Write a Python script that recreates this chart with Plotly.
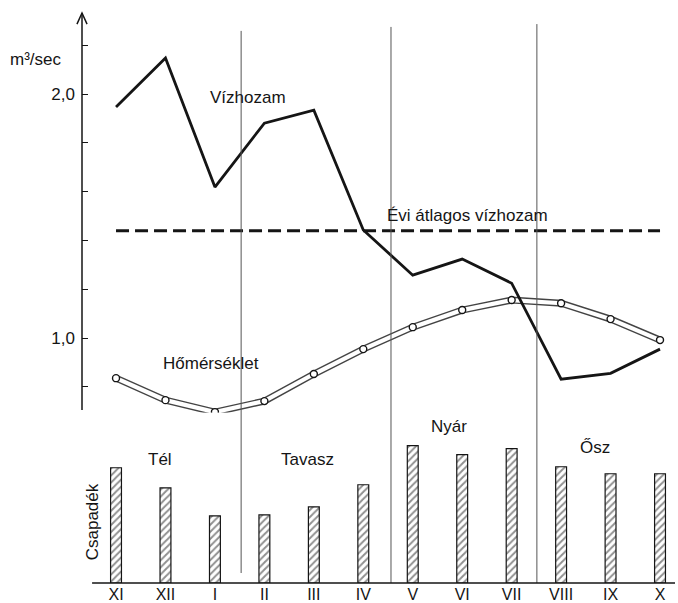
import plotly.graph_objects as go

months = ["XI", "XII", "I", "II", "III", "IV", "V", "VI", "VII", "VIII", "IX", "X"]
discharge = [1.947, 2.148, 1.619, 1.881, 1.934, 1.443, 1.258, 1.324, 1.225, 0.832, 0.856, 0.955]
temperature = [0.836, 0.746, 0.697, 0.742, 0.853, 0.955, 1.045, 1.115, 1.156, 1.143, 1.078, 0.992]
precipitation = [115, 95, 67, 68, 76, 98, 137, 128, 134, 116, 109, 109]
annual_mean = 1.44
season_bounds = [2.53, 5.56, 8.51]
seasons = ["Tél", "Tavasz", "Nyár", "Ősz"]

x = list(range(len(months)))
FONT = "Liberation Sans"
INK = "#151515"

fig = go.Figure()

# precipitation bars (bottom panel)
fig.add_trace(go.Bar(
    x=x, y=precipitation, xaxis="x", yaxis="y2", width=0.22,
    marker=dict(color="white", line=dict(color=INK, width=1.2),
                pattern=dict(shape="/", fgcolor="#222", bgcolor="white", size=5, solidity=0.4)),
    showlegend=False, hoverinfo="skip"))

# annual mean discharge (dashed)
fig.add_trace(go.Scatter(
    x=[x[0], x[-1]], y=[annual_mean, annual_mean], mode="lines",
    line=dict(color=INK, width=3, dash="13px,6px"), showlegend=False))

# temperature double line
fig.add_trace(go.Scatter(x=x, y=temperature, mode="lines",
                         line=dict(color="#444", width=7), showlegend=False))
fig.add_trace(go.Scatter(x=x, y=temperature, mode="lines",
                         line=dict(color="white", width=4.2), showlegend=False))
fig.add_trace(go.Scatter(x=x, y=temperature, mode="markers",
                         marker=dict(symbol="circle", size=7, color="white",
                                     line=dict(color=INK, width=1.4)), showlegend=False))

# discharge
fig.add_trace(go.Scatter(x=x, y=discharge, mode="lines",
                         line=dict(color=INK, width=2.8), showlegend=False))

shapes = []
tops = [0.972, 0.979, 0.984]
bottoms = [0.0176, 0.0, 0.0]
for b, t, bt in zip(season_bounds, tops, bottoms):
    shapes.append(dict(type="line", xref="x", yref="paper", x0=b, x1=b, y0=bt, y1=t,
                       line=dict(color="#555", width=1)))
# bottom baseline
shapes.append(dict(type="line", xref="paper", yref="paper", x0=0.017, x1=1.0, y0=0, y1=0,
                   line=dict(color=INK, width=1.5)))
# y axis line and arrow head
shapes.append(dict(type="line", xref="paper", yref="paper", x0=0, x1=0, y0=0.3046, y1=1.0035,
                   line=dict(color=INK, width=1.5)))
shapes.append(dict(type="path", xref="paper", yref="paper",
                   path="M -0.0085,0.984 L 0,1.0035 L 0.0085,0.984",
                   line=dict(color=INK, width=1.5)))

TF = dict(size=17, color=INK, family=FONT)
annotations = [
    dict(text="m³/sec", xref="paper", yref="paper", x=-0.078, y=0.9225, showarrow=False,
         xanchor="center", yanchor="middle", font=TF),
    dict(text="Vízhozam", xref="x", yref="y", x=2.67, y=1.984, showarrow=False,
         xanchor="center", yanchor="middle", font=TF),
    dict(text="Évi átlagos vízhozam", xref="x", yref="y", x=7.10, y=1.504, showarrow=False,
         xanchor="center", yanchor="middle", font=TF),
    dict(text="Hőmérséklet", xref="x", yref="y", x=1.92, y=0.898, showarrow=False,
         xanchor="center", yanchor="middle", font=TF),
    dict(text="Csapadék", xref="paper", yref="paper", x=0.017, y=0.107, showarrow=False,
         xanchor="center", yanchor="middle", textangle=-90, font=TF),
]
season_pos = [(0.89, 0.218), (3.88, 0.218), (6.73, 0.275), (9.69, 0.238)]
for name, (sx, sy) in zip(seasons, season_pos):
    annotations.append(dict(text=name, xref="x", yref="paper", x=sx, y=sy, showarrow=False,
                            xanchor="center", yanchor="middle", font=TF))

yticks = [0.8, 1.0, 1.2, 1.4, 1.6, 1.8, 2.0, 2.2]
ytext = ["", "1,0", "", "", "", "", "2,0", ""]

fig.update_layout(
    width=678, height=603,
    margin=dict(l=82, r=3, t=15, b=20, autoexpand=False),
    paper_bgcolor="white", plot_bgcolor="white",
    showlegend=False,
    font=dict(family=FONT, color=INK),
    xaxis=dict(domain=[0, 1], range=[-0.688, 11.303], tickvals=x, ticktext=months,
               anchor="y2", showline=False, showgrid=False, zeroline=False, ticks="",
               ticklabelstandoff=0, tickfont=dict(size=16, color=INK, family=FONT),
               automargin=False),
    yaxis=dict(domain=[0.285, 1.0], range=[0.66, 2.324], anchor="x",
               tickvals=yticks, ticktext=ytext, ticks="inside", ticklen=6, tickwidth=1.3,
               tickcolor=INK, showline=False, automargin=False,
               showgrid=False, zeroline=False, ticklabelstandoff=6, tickfont=TF),
    yaxis2=dict(domain=[0, 0.3], range=[0, 170], anchor="x", visible=False, automargin=False),
    shapes=shapes, annotations=annotations, bargap=0.5,
)

fig.write_html("out.html", config={"displayModeBar": False},
               post_script="document.body.style.margin='0';document.body.style.overflow='hidden';")
